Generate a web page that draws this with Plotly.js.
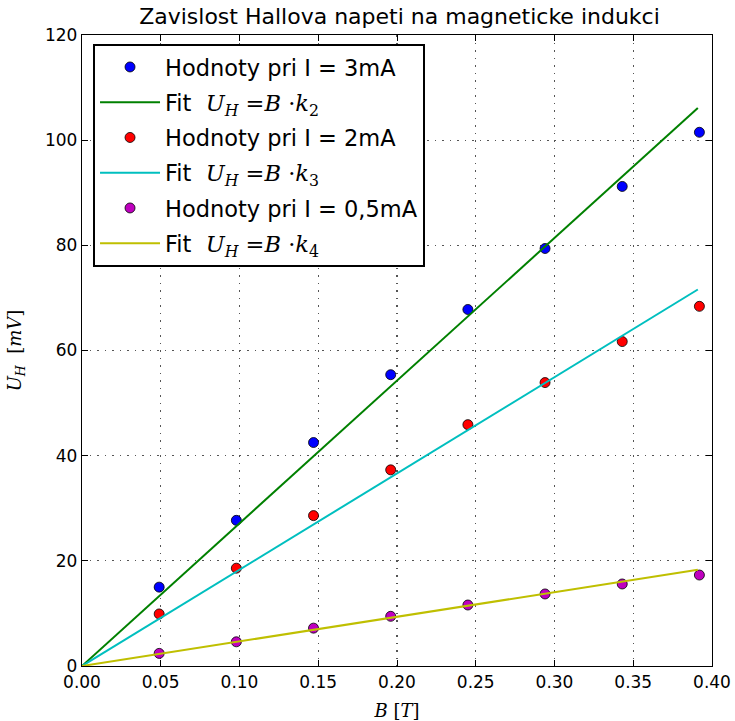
<!DOCTYPE html>
<html>
<head>
<meta charset="utf-8">
<script src="https://cdn.plot.ly/plotly-3.0.1.min.js"></script>
<style>html,body{margin:0;padding:0;background:#fff;}#chart{width:735px;height:721px;}</style>
</head>
<body>
<div id="chart"></div>
<script>
// Data
const B = [0.049, 0.098, 0.147, 0.196, 0.245, 0.294, 0.343, 0.392];
const U3mA = [15.0, 27.7, 42.5, 55.4, 67.8, 79.4, 91.2, 101.5];
const U2mA = [9.9, 18.6, 28.6, 37.3, 45.9, 53.9, 61.7, 68.4];
const U05mA = [2.4, 4.6, 7.2, 9.45, 11.6, 13.7, 15.6, 17.3];
const fitB = [0, 0.391];
const fit2 = [0, 106.1];
const fit3 = [0, 71.6];
const fit4 = [0, 18.3];
const xTicks = [0, 0.05, 0.10, 0.15, 0.20, 0.25, 0.30, 0.35, 0.40];
const yTicks = [0, 20, 40, 60, 80, 100, 120];

const mathFont = "DejaVu Serif";
function fitLabel(n){
  return 'Fit  <span style="font-family:' + mathFont + '"><i>U</i><sub><i>H</i></sub> =<i>B</i> ·<i>k</i><sub>' + n + '</sub></span>';
}
const mk = (c) => ({size: 10, color: c, line: {color: '#000', width: 0.8}});

const traces = [
  {x: B, y: U3mA, mode: 'markers', name: 'Hodnoty pri I = 3mA', marker: mk('#0000ff'), legendgroup: 'a'},
  {x: fitB, y: fit2, mode: 'lines', name: fitLabel(2), line: {color: '#008000', width: 2}, legendgroup: 'b'},
  {x: B, y: U2mA, mode: 'markers', name: 'Hodnoty pri I = 2mA', marker: mk('#ff0000'), legendgroup: 'c'},
  {x: fitB, y: fit3, mode: 'lines', name: fitLabel(3), line: {color: '#00bfbf', width: 2}, legendgroup: 'd'},
  {x: B, y: U05mA, mode: 'markers', name: 'Hodnoty pri I = 0,5mA', marker: mk('#bf00bf'), legendgroup: 'e'},
  {x: fitB, y: fit4, mode: 'lines', name: fitLabel(4), line: {color: '#bfbf00', width: 2}, legendgroup: 'f'}
];

const axisCommon = {
  showline: true, linecolor: '#000', linewidth: 1.2, mirror: 'ticks',
  ticks: 'inside', ticklen: 6, tickcolor: '#000', tickwidth: 1,
  showgrid: true, gridcolor: '#555', griddash: '1.5px,6px', gridwidth: 1.2,
  zeroline: false, tickfont: {family: 'DejaVu Sans', size: 17, color: '#000'}
};

const layout = {
  width: 735, height: 721,
  margin: {l: 82, r: 23, t: 35, b: 55},
  paper_bgcolor: '#fff', plot_bgcolor: '#fff',
  font: {family: 'DejaVu Sans', color: '#000'},
  title: {text: 'Zavislost Hallova napeti na magneticke indukci', font: {family: 'DejaVu Sans', size: 22, color: '#000'},
          xref: 'container', x: 0.5435, xanchor: 'center', yref: 'container', y: 0.977, yanchor: 'middle'},
  xaxis: Object.assign({}, axisCommon, {
    range: [0, 0.40], tickvals: xTicks, tickformat: '.2f',
    title: {text: '<i>B</i> [<i>T</i>]', font: {family: mathFont, size: 18, color: '#000'}, standoff: 14}
  }),
  yaxis: Object.assign({}, axisCommon, {
    range: [0, 120], tickvals: yTicks,
    title: {text: '<i>U</i><sub><i>H</i></sub>  [<i>mV</i>]', font: {family: mathFont, size: 18, color: '#000'}, standoff: 18}
  }),
  showlegend: true,
  legend: {
    x: 0.0175, y: 0.986, xanchor: 'left', yanchor: 'top',
    bgcolor: '#fff', bordercolor: '#000', borderwidth: 2,
    font: {family: 'DejaVu Sans', size: 22.5, color: '#000'},
    tracegroupgap: 3, itemwidth: 60
  }
};

Plotly.newPlot('chart', traces, layout, {displayModeBar: false, staticPlot: true});
</script>
</body>
</html>
